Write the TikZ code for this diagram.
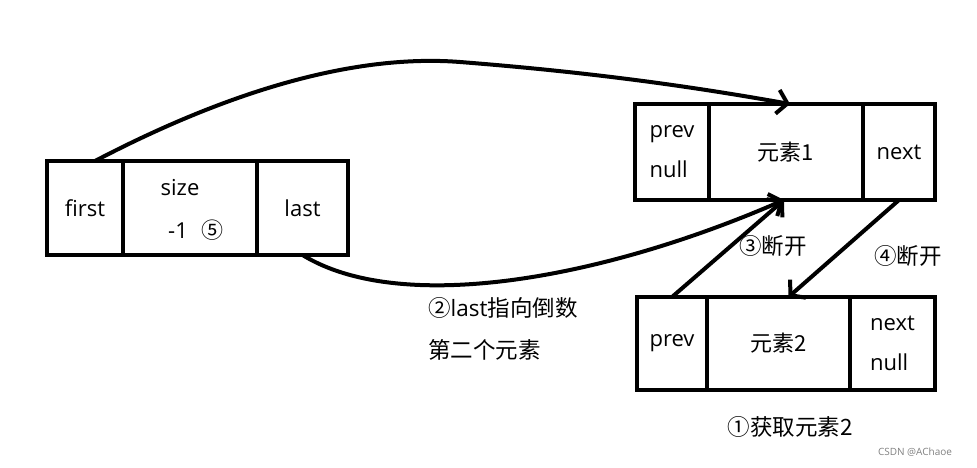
\documentclass[tikz,border=0pt]{standalone}
\usepackage{fontspec}
\setmainfont{Open Sans}
\newfontfamily\cjk{Noto Sans CJK SC}
\usetikzlibrary{arrows.meta,positioning}
\tikzset{
  cell/.style={draw=black, line width=4pt, outer sep=0pt, inner sep=0pt,
               font=\fontsize{22}{40}\selectfont, align=left},
  link/.style={line width=4pt, draw=black, -{Straight Barb[length=10pt,width=24pt]}},
  note/.style={font=\fontsize{22.5}{42}\selectfont, inner sep=0pt, align=left},
}
\begin{document}
\begin{tikzpicture}[x=1pt,y=-1pt]
\useasboundingbox (0,0) rectangle (977,468);
% ===================== list head: first / size / last
\node[cell, minimum width=76, minimum height=94, anchor=north west] (first) at (47,161) {first};
\node[cell, minimum width=134, minimum height=94, right=0pt of first] (size) {};
\node[cell, minimum width=91, minimum height=94, right=0pt of size] (last) {last};
\node[note, font=\fontsize{22}{40}\selectfont] (sizetxt) at (180,188) {size};
\node[note, font=\fontsize{22}{40}\selectfont] (sizeval) at (196,230) {-1\hspace{14pt}{\cjk ⑤}};
% ===================== element 1
\node[cell, minimum width=74, minimum height=96, anchor=north west] (prev1) at (635,104) {prev\\null};
\node[cell, minimum width=154, minimum height=96, right=0pt of prev1] (elem1) {{\cjk 元素1}};
\node[cell, minimum width=72, minimum height=96, right=0pt of elem1] (next1) {next};
% ===================== element 2
\node[cell, minimum width=70, minimum height=93, anchor=north west] (prev2) at (637,297) {prev};
\node[cell, minimum width=143, minimum height=93, right=0pt of prev2] (elem2) {{\cjk 元素2}};
\node[cell, minimum width=85, minimum height=93, right=0pt of elem2] (next2) {next\\null};
% ===================== links
\draw[link] ([xshift=10pt]first.north) .. controls (250,80) and (370,55) .. (460,62)
  .. controls (600,73) and (700,88) .. ([xshift=4pt]elem1.north);
\draw[link] (last.south) .. controls (400,315) and (600,280) .. ([xshift=-2pt]elem1.south);
\draw[link] (prev2.north) -- ([xshift=-2pt]elem1.south);
\draw[link] (next1.south) -- ([xshift=10pt]elem2.north);
% ===================== notes
\node[note] (cut3) at (773,246) {{\cjk ③断开}};
\node[note] (cut4) at (908,256) {{\cjk ④断开}};
\node[note, anchor=west] (lastnote) at (428,329) {{\cjk ②}last{\cjk 指向倒数}\\{\cjk 第二个元素}};
\node[note] (getnote) at (790,427) {{\cjk ①获取元素2}};
\node[font=\fontsize{10}{12}\selectfont, text=gray, inner sep=0pt] (mark) at (915,452) {CSDN @AChaoe};
\end{tikzpicture}
\end{document}
